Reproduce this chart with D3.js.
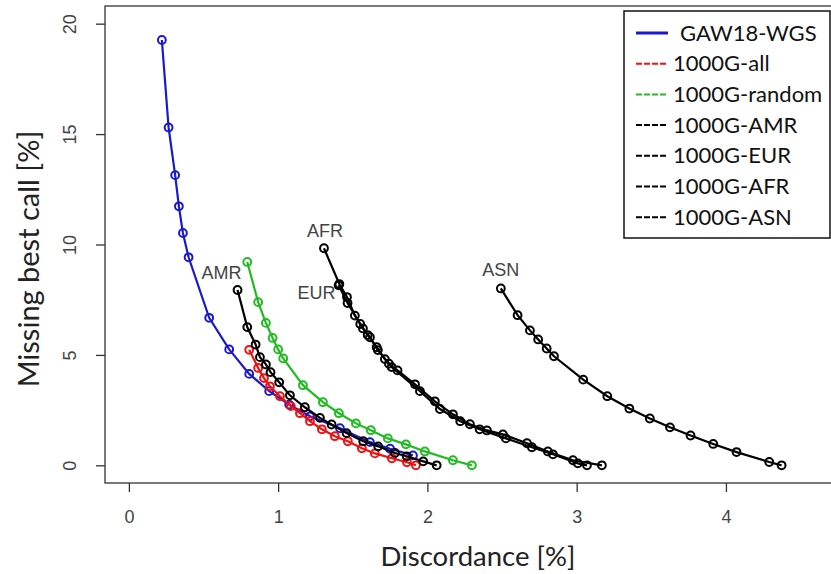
<!DOCTYPE html>
<html>
<head>
<meta charset="utf-8">
<script src="https://cdn.jsdelivr.net/npm/d3@7"></script>
<style>
  html, body { margin: 0; padding: 0; background: #fff; }
  svg { display: block; }
</style>
</head>
<body>
<svg id="chart" width="831" height="574"></svg>
<script>
// ---- data (Discordance %, Missing best call %) ----
const gawX   = [0.221, 0.266, 0.310, 0.335, 0.362, 0.400, 0.538, 0.672, 0.806, 0.940, 1.074, 1.213, 1.414, 1.615, 1.750, 1.903];
const gawY   = [19.26, 15.30, 13.14, 11.73, 10.52, 9.42, 6.68, 5.25, 4.14, 3.36, 2.75, 2.22, 1.68, 1.05, 0.75, 0.45];

const allX   = [0.806, 0.866, 0.905, 0.945, 1.012, 1.085, 1.146, 1.213, 1.293, 1.380, 1.467, 1.561, 1.648, 1.762, 1.863, 1.923];
const allY   = [5.23, 4.41, 3.95, 3.58, 3.13, 2.68, 2.36, 2.00, 1.63, 1.32, 1.09, 0.77, 0.54, 0.32, 0.14, 0.00];

const rndX   = [0.793, 0.866, 0.918, 0.963, 1.000, 1.034, 1.166, 1.300, 1.407, 1.521, 1.621, 1.735, 1.856, 1.983, 2.171, 2.298];
const rndY   = [9.21, 7.39, 6.45, 5.77, 5.25, 4.84, 3.63, 2.86, 2.36, 1.90, 1.59, 1.22, 0.95, 0.63, 0.23, 0.00];

const amrX   = [0.728, 0.793, 0.849, 0.878, 0.918, 0.949, 1.007, 1.079, 1.179, 1.280, 1.358, 1.458, 1.570, 1.670, 1.782, 1.861, 1.972, 2.062];
const amrY   = [7.94, 6.26, 5.47, 4.90, 4.57, 4.22, 3.76, 3.17, 2.63, 2.15, 1.85, 1.46, 1.09, 0.86, 0.56, 0.41, 0.18, 0.00];

const eurX   = [1.405, 1.465, 1.550, 1.600, 1.660, 1.715, 1.760, 1.950, 2.084, 2.220, 2.350, 2.526, 2.700, 2.841, 3.008, 3.069];
const eurY   = [8.15, 7.35, 6.40, 5.90, 5.35, 4.81, 4.45, 3.36, 2.55, 2.00, 1.63, 1.22, 0.82, 0.50, 0.09, 0.00];

const afrX   = [1.307, 1.410, 1.461, 1.514, 1.568, 1.615, 1.668, 1.742, 1.800, 1.917, 2.050, 2.171, 2.285, 2.399, 2.506, 2.667, 2.807, 2.975, 3.169];
const afrY   = [9.83, 8.21, 7.62, 6.78, 6.20, 5.80, 5.22, 4.60, 4.30, 3.67, 2.90, 2.31, 1.86, 1.58, 1.40, 1.00, 0.63, 0.23, 0.00];

const asnX   = [2.492, 2.604, 2.687, 2.742, 2.799, 2.848, 3.044, 3.205, 3.353, 3.490, 3.625, 3.763, 3.915, 4.071, 4.290, 4.373];
const asnY   = [8.01, 6.80, 6.11, 5.70, 5.29, 4.94, 3.88, 3.13, 2.57, 2.12, 1.72, 1.35, 0.97, 0.60, 0.15, 0.00];

const seriesNames  = ["GAW18-WGS", "1000G-all", "1000G-random", "1000G-AMR", "1000G-EUR", "1000G-AFR", "1000G-ASN"];
const seriesColors = ["#1a1acc", "#ee1111", "#22bb22", "#000000", "#000000", "#000000", "#000000"];
const curveLabels  = ["", "", "", "AMR", "EUR", "AFR", "ASN"];

const xTicks = [0, 1, 2, 3, 4];
const yTicks = [0, 5, 10, 15, 20];

// ---- layout ----
const svg = d3.select("#chart");
const box = { left: 105, right: 834, top: 6, bottom: 483 };

const x = d3.scaleLinear().domain([-0.16, 4.724]).range([box.left, box.right]);
const y = d3.scaleLinear().domain([-0.8, 20.8]).range([box.bottom, box.top]);

const xs = [gawX, allX, rndX, amrX, eurX, afrX, asnX];
const ys = [gawY, allY, rndY, amrY, eurY, afrY, asnY];
const series = seriesNames.map((name, i) => ({
  name, color: seriesColors[i], label: curveLabels[i],
  pts: xs[i].map((v, j) => [v, ys[i][j]])
}));

// plot box
svg.append("rect")
  .attr("x", box.left).attr("y", box.top)
  .attr("width", box.right - box.left).attr("height", box.bottom - box.top)
  .attr("fill", "none").attr("stroke", "#333").attr("stroke-width", 1.3);

// axes
const gx = svg.append("g").attr("transform", `translate(0,${box.bottom})`)
  .call(d3.axisBottom(x).tickValues(xTicks).tickSize(9).tickPadding(18).tickFormat(d3.format("d")));
gx.select(".domain").remove();
gx.selectAll("line").attr("stroke", "#333").attr("stroke-width", 1.3);
gx.selectAll("text").attr("font-family", "'Liberation Sans', Arial, sans-serif")
  .attr("font-size", 18).attr("fill", "#444");

const gy = svg.append("g").attr("transform", `translate(${box.left},0)`)
  .call(d3.axisLeft(y).tickValues(yTicks).tickSize(9).tickFormat(d3.format("d")));
gy.select(".domain").remove();
gy.selectAll("line").attr("stroke", "#333").attr("stroke-width", 1.3);
gy.selectAll("text")
  .attr("font-family", "'Liberation Sans', Arial, sans-serif")
  .attr("font-size", 18).attr("fill", "#444")
  .attr("x", 0).attr("dy", 0)
  .attr("text-anchor", "middle")
  .attr("transform", "translate(-35,0) rotate(-90) translate(0,6)");

// axis titles
svg.append("text")
  .attr("x", 478).attr("y", 566)
  .attr("text-anchor", "middle")
  .attr("font-family", "Lato, 'Open Sans', sans-serif")
  .attr("font-size", 27.5).attr("fill", "#222")
  .text("Discordance [%]");

svg.append("text")
  .attr("transform", "translate(39,259) rotate(-90)")
  .attr("text-anchor", "middle")
  .attr("font-family", "Lato, 'Open Sans', sans-serif")
  .attr("font-size", 29).attr("fill", "#222")
  .text("Missing best call [%]");

// curves
const line = d3.line().x(d => x(d[0])).y(d => y(d[1]));
const plot = svg.append("g");
series.forEach(s => {
  const g = plot.append("g");
  g.append("path").attr("d", line(s.pts))
    .attr("fill", "none").attr("stroke", s.color).attr("stroke-width", 2.2);
  g.selectAll("circle").data(s.pts).join("circle")
    .attr("cx", d => x(d[0])).attr("cy", d => y(d[1])).attr("r", 3.9)
    .attr("fill", "none").attr("stroke", s.color).attr("stroke-width", 2);
});

// curve labels (near first point of each population curve)
const labelOffsets = { AMR: [-16, -11], EUR: [-22, 14], AFR: [1, -11], ASN: [0, -12] };
series.filter(s => s.label).forEach(s => {
  const p = s.pts[0];
  const o = labelOffsets[s.label];
  svg.append("text")
    .attr("x", x(p[0]) + o[0]).attr("y", y(p[1]) + o[1])
    .attr("text-anchor", "middle")
    .attr("font-family", "'Liberation Sans', Arial, sans-serif")
    .attr("font-size", 18).attr("fill", "#444")
    .text(s.label);
});

// legend
const lg = svg.append("g").attr("transform", "translate(624,11)");
lg.append("rect").attr("width", 206).attr("height", 227)
  .attr("fill", "#fff").attr("stroke", "#111").attr("stroke-width", 1.5);
series.forEach((s, i) => {
  const yy = 22 + i * 30.7;
  lg.append("line")
    .attr("x1", 12).attr("x2", 44).attr("y1", yy).attr("y2", yy)
    .attr("stroke", s.color)
    .attr("stroke-width", i === 0 ? 3 : 2)
    .attr("stroke-dasharray", i === 0 ? null : "6,2");
  lg.append("text")
    .attr("x", i === 0 ? 56 : 49).attr("y", yy + 7.5)
    .attr("font-family", "Lato, 'Open Sans', sans-serif")
    .attr("font-size", 22).attr("fill", "#111")
    .text(s.name);
});
</script>
</body>
</html>
